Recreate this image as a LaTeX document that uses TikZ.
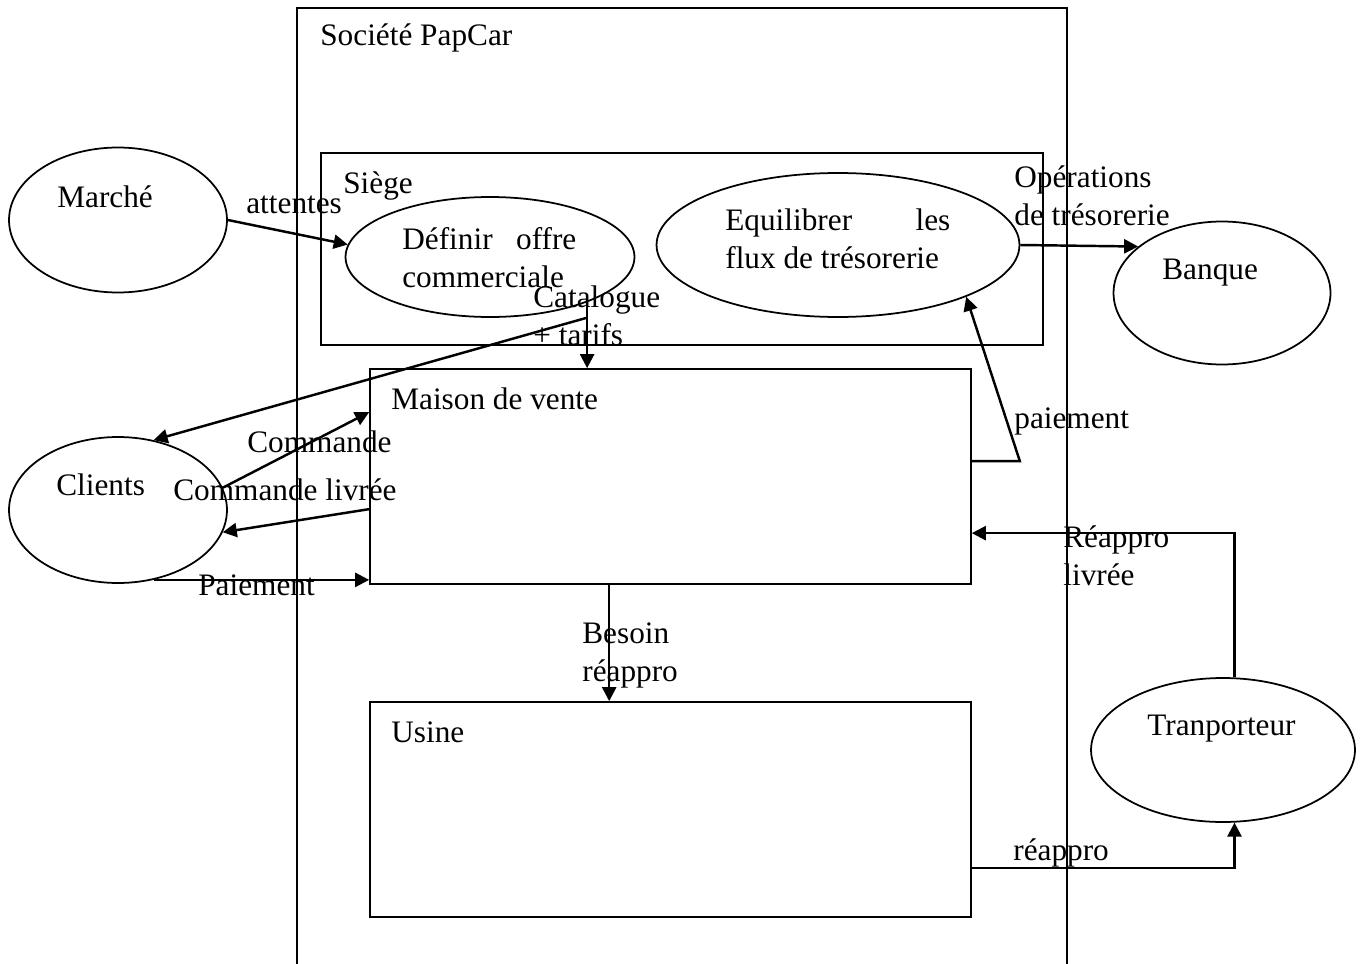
\documentclass[tikz,border=0pt]{standalone}
\usepackage{fontspec}
\setmainfont{Liberation Serif}
\usetikzlibrary{arrows.meta,shapes.geometric,calc}

\begin{document}
\begin{tikzpicture}[
    x=0.02cm,y=-0.02cm,
    zone/.style={draw,line width=1pt,inner sep=0pt},
    actor/.style={draw,ellipse,line width=1pt,inner sep=0pt},
    txt/.style={anchor=base west,inner sep=0pt,align=left,font=\fontsize{17.8}{21.3}\selectfont},
    flow/.style={->,line width=1.4pt},
    >={Triangle[length=8pt,width=8pt]}
]
\useasboundingbox (0,0) rectangle (1365,963);

\node[zone,minimum width=15.4cm,minimum height=19.4cm] (societe) at (682,493) {};
\node[zone,minimum width=14.44cm,minimum height=3.84cm] (siege) at (682,249) {};
\node[zone,minimum width=12.02cm,minimum height=4.3cm] (maison) at (670.5,476.5) {};
\node[zone,minimum width=12.02cm,minimum height=4.3cm] (usine) at (670.5,809.5) {};

\node[actor,minimum width=4.36cm,minimum height=2.9cm] (marche) at (118,220) {};
\node[actor,minimum width=4.36cm,minimum height=2.92cm] (clients) at (118,510) {};
\node[actor,minimum width=4.34cm,minimum height=2.86cm] (banque) at (1222,293) {};
\node[actor,minimum width=5.28cm,minimum height=2.88cm] (transp) at (1223,750) {};
\node[actor,minimum width=5.78cm,minimum height=2.4cm] (definir) at (490,257) {};
\node[actor,minimum width=7.26cm,minimum height=2.88cm] (equil) at (838,245) {};

% multi-line texts sit on the baseline of their last line
\node[txt] (tsociete) at (320,46) {Société PapCar};
\node[txt] (tsiege) at (343,193) {Siège};
\node[txt] (tmaison) at (391,409) {Maison de vente};
\node[txt] (tusine) at (391,742) {Usine};
\node[txt] (tmarche) at (57,207) {Marché};
\node[txt] (tclients) at (56,495) {Clients};
\node[txt] (tbanque) at (1162,279) {Banque};
\node[txt] (ttransp) at (1147,735) {Tranporteur};
\node[txt] (tdefinir) at (402,287) {\makebox[3.48cm][s]{Définir offre}\\commerciale};
\node[txt] (tequil) at (725,268) {\makebox[4.5cm][s]{Equilibrer les}\\flux de trésorerie};

\node[txt] (tattentes) at (246,213) {attentes};
\node[txt] (toper) at (1014,225) {Opérations\\de trésorerie};
\node[txt] (tcatal) at (533,345) {Catalogue\\+ tarifs};
\node[txt] (tcommande) at (247,452) {Commande};
\node[txt] (tcmdliv) at (173,500) {Commande livrée};
\node[txt] (tpaiem) at (198,595) {Paiement};
\node[txt] (tpaiemb) at (1014,428) {paiement};
\node[txt] (tbesoin) at (582,681) {Besoin\\réappro};
\node[txt] (treapliv) at (1063,585) {Réappro\\livrée};
\node[txt] (treappro) at (1013,860) {réappro};

\coordinate (catfork) at (586,318);

\draw[flow] (marche.east) -- (definir.175);
\draw[flow] (definir.-25) -- (definir.-25 |- maison.north);
\draw[flow] (catfork) -- (clients.63);
\draw[flow] (clients.12) -- ($(maison.north west)+(0,44)$);
\draw[flow] ($(maison.north west)+(0,141)$) -- (clients.-12);
\draw[flow] (clients.-63) -- (clients.-63 -| maison.west);
\draw[flow] ($(maison.north east)+(0,93)$) -- ++(48,0) -- (equil.-22);
\draw[flow] (equil.east) -- (banque.151);
\draw[flow] ($(maison.south west)+(240,0)$) -- ($(usine.north west)+(240,0)$);
\draw[flow] (transp.81) |- ($(maison.north east)+(0,165)$);
\draw[flow] ($(usine.north east)+(0,167)$) -| (transp.-81);
\end{tikzpicture}
\end{document}
